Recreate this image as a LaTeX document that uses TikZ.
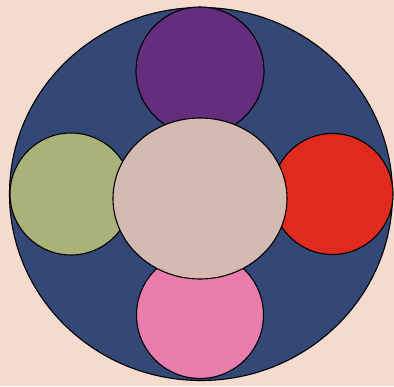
\documentclass[tikz,border=0pt]{standalone}
\usetikzlibrary{shapes.geometric}
\definecolor{bgc}{HTML}{F5DACE}
\definecolor{navy}{HTML}{344878}
\definecolor{purp}{HTML}{642D7E}
\definecolor{olive}{HTML}{AAB27A}
\definecolor{redc}{HTML}{E02A1D}
\definecolor{pinkc}{HTML}{E87DAE}
\definecolor{centc}{HTML}{D4BAB0}
\tikzset{
  blob/.style={ellipse, draw=black, line width=1.1pt, inner sep=0pt},
}
\begin{document}
\begin{tikzpicture}[x=1pt,y=-1pt]
\fill[bgc] (0,0) rectangle (394,386);
\useasboundingbox (0,0) rectangle (394,386);
\node[blob, fill=navy, minimum width=383pt, minimum height=373pt] (outer) at (201,194) {};
\node[blob, fill=purp, minimum width=128pt, minimum height=128pt] (top) at (200,71) {};
\node[blob, fill=pinkc, minimum width=127pt, minimum height=127pt] (bottom) at (200,315) {};
\node[blob, fill=olive, minimum width=122pt, minimum height=122pt] (left) at (71,194) {};
\node[blob, fill=redc, minimum width=121pt, minimum height=121pt] (right) at (332.5,194) {};
\node[blob, fill=centc, minimum width=174pt, minimum height=161pt] (center) at (200,198.5) {};
\end{tikzpicture}
\end{document}
